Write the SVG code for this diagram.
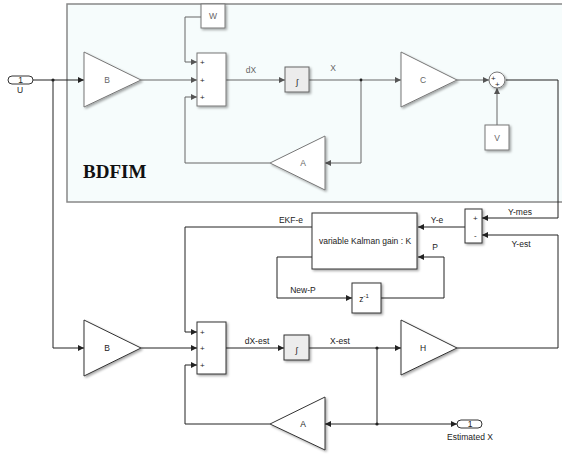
<svg xmlns="http://www.w3.org/2000/svg" width="562" height="455" viewBox="0 0 562 455">
<defs>
<marker id="ad" viewBox="0 0 6 6" refX="6" refY="3" markerWidth="6" markerHeight="6" markerUnits="userSpaceOnUse" orient="auto"><path d="M0,0 L6,3 L0,6 z" fill="#222"/></marker>
<marker id="ag" viewBox="0 0 6 6" refX="6" refY="3" markerWidth="6" markerHeight="6" markerUnits="userSpaceOnUse" orient="auto"><path d="M0,0 L6,3 L0,6 z" fill="#555"/></marker>
<filter id="sh" x="-20%" y="-20%" width="150%" height="150%"><feDropShadow dx="1.5" dy="1.5" stdDeviation="0.8" flood-color="#000" flood-opacity="0.35"/></filter>
</defs>
<style>
.blk{fill:#fff;stroke:#333;stroke-width:1;filter:url(#sh)}
.bg{fill:#fff;stroke:#777;stroke-width:1;filter:url(#sh)}
.int{fill:#ececec;stroke:#666;stroke-width:1;filter:url(#sh)}
.cd{fill:none;stroke:#222;stroke-width:1;marker-end:url(#ad)}
.cg{fill:none;stroke:#666;stroke-width:1;marker-end:url(#ag)}
.t{font-family:"Liberation Sans",Arial,sans-serif;font-size:8.5px;fill:#222;text-anchor:middle}
.tg{font-family:"Liberation Sans",Arial,sans-serif;font-size:8.5px;fill:#666;text-anchor:middle}
.s{font-family:"Liberation Sans",Arial,sans-serif;font-size:8px;fill:#222}
.dot{fill:#222}
</style>
<rect width="562" height="455" fill="#fff"/>
<g id="bdfim">
<rect x="67" y="4" width="500" height="198" fill="#f6fcfc" stroke="#888" stroke-width="1.5"/>
<text x="83" y="178" font-family="'Liberation Serif','Times New Roman',serif" font-size="19" font-weight="bold" fill="#111">BDFIM</text>
</g>
<g id="connectors">
<path class="cd" d="M33,80 H84"/>
<path class="cg" d="M141,80 H197"/>
<path class="cg" d="M201,17 H185 V62 H197"/>
<path class="cg" d="M270,163 H185 V97 H197"/>
<path class="cg" d="M226,80 H285"/>
<path class="cg" d="M309,80 H401"/>
<path class="cg" d="M361,80 V163 H325"/>
<path class="cg" d="M457,80 H489"/>
<path class="cg" d="M497,125 V88"/>
<path class="cd" d="M506,80 H558 V218 H482"/>
<path class="cd" d="M53,80 V348 H84"/>
<path class="cd" d="M141,348 H197"/>
<path class="cd" d="M465,227 H418"/>
<path class="cd" d="M312,227 H185 V332 H197"/>
<path class="cd" d="M312,257 H277 V298 H352"/>
<path class="cd" d="M381,298 H444 V257 H418"/>
<path class="cd" d="M226,348 H284"/>
<path class="cd" d="M309,348 H401"/>
<path class="cd" d="M457,348 H558 V235 H482"/>
<path class="cd" d="M377,348 V424 H325"/>
<path class="cd" d="M377,424 H457"/>
<path class="cd" d="M270,424 H185 V365 H197"/>
<circle class="dot" cx="53" cy="80" r="1.6"/>
<circle class="dot" cx="361" cy="80" r="1.4" fill="#555"/>
<circle class="dot" cx="377" cy="348" r="1.6"/>
<circle class="dot" cx="377" cy="424" r="1.6"/>
<text class="tg" x="251" y="73">dX</text>
<text class="tg" x="333" y="71">X</text>
<text class="t" x="291" y="223">EKF-e</text>
<text class="t" x="437" y="223">Y-e</text>
<text class="t" x="520" y="215">Y-mes</text>
<text class="t" x="521" y="247">Y-est</text>
<text class="t" x="435" y="250">P</text>
<text class="t" x="303" y="293">New-P</text>
<text class="t" x="257" y="344">dX-est</text>
<text class="t" x="340" y="344">X-est</text>
</g>
<g id="inU">
<rect x="8" y="76" width="25" height="8" rx="4" fill="#fff" stroke="#333"/>
<text class="t" x="20.5" y="83" font-size="7">1</text>
<text class="t" x="20" y="93">U</text>
</g>
<g id="gainB">
<path class="bg" d="M84,52 L141,80 L84,107 z"/>
<text class="tg" x="107" y="83">B</text>
</g>
<g id="W">
<rect class="bg" x="201" y="4" width="24" height="24"/>
<text class="tg" x="213" y="19">W</text>
</g>
<g id="sum1">
<rect class="bg" x="197" y="53" width="29" height="53"/>
<text class="s" x="200" y="65" fill="#444">+</text>
<text class="s" x="200" y="83" fill="#444">+</text>
<text class="s" x="200" y="100" fill="#444">+</text>
</g>
<g id="int1">
<rect class="int" x="285" y="67" width="24" height="25"/>
<text class="t" x="297" y="85" font-size="13">∫</text>
</g>
<g id="gainC">
<path class="bg" d="M401,52 L457,80 L401,107 z"/>
<text class="tg" x="423" y="83">C</text>
</g>
<g id="gainA">
<path class="bg" d="M325,136 L270,163 L325,190 z"/>
<text class="tg" x="303" y="166">A</text>
</g>
<g id="sumV">
<circle cx="497" cy="80" r="8" fill="#fff" stroke="#777" filter="url(#sh)"/>
<text class="s" x="491" y="81" font-size="6" fill="#444">+</text>
<text class="s" x="495" y="87" font-size="6" fill="#444">+</text>
</g>
<g id="V">
<rect class="bg" x="485" y="125" width="24" height="25"/>
<text class="tg" x="497" y="141">V</text>
</g>
<g id="sub">
<rect class="blk" x="465" y="209" width="17" height="34"/>
<text class="s" x="473" y="221" font-size="7">+</text>
<text class="s" x="474" y="238" font-size="7">-</text>
</g>
<g id="kalman">
<rect class="blk" x="312" y="213" width="105" height="56"/>
<text class="t" x="365" y="244">variable Kalman gain : K</text>
</g>
<g id="delay">
<rect class="blk" x="352" y="283" width="29" height="30"/>
<text class="t" x="364" y="302">z<tspan font-size="6" dy="-4">-1</tspan></text>
</g>
<g id="gainB2">
<path class="blk" d="M84,320 L141,348 L84,376 z"/>
<text class="t" x="107" y="351">B</text>
</g>
<g id="sum2">
<rect class="blk" x="197" y="322" width="29" height="52"/>
<text class="s" x="200" y="335">+</text>
<text class="s" x="200" y="351">+</text>
<text class="s" x="200" y="368">+</text>
</g>
<g id="int2">
<rect class="int" x="284" y="335" width="25" height="25" style="stroke:#333"/>
<text class="t" x="296.5" y="353" font-size="13">∫</text>
</g>
<g id="gainH">
<path class="blk" d="M401,320 L457,348 L401,375 z"/>
<text class="t" x="423" y="351">H</text>
</g>
<g id="gainA2">
<path class="blk" d="M325,397 L270,424 L325,450 z"/>
<text class="t" x="303" y="427">A</text>
</g>
<g id="outX">
<rect x="457" y="420" width="25" height="8" rx="4" fill="#fff" stroke="#333"/>
<text class="t" x="470" y="427" font-size="7">1</text>
<text class="t" x="470" y="440">Estimated X</text>
</g>
</svg>
